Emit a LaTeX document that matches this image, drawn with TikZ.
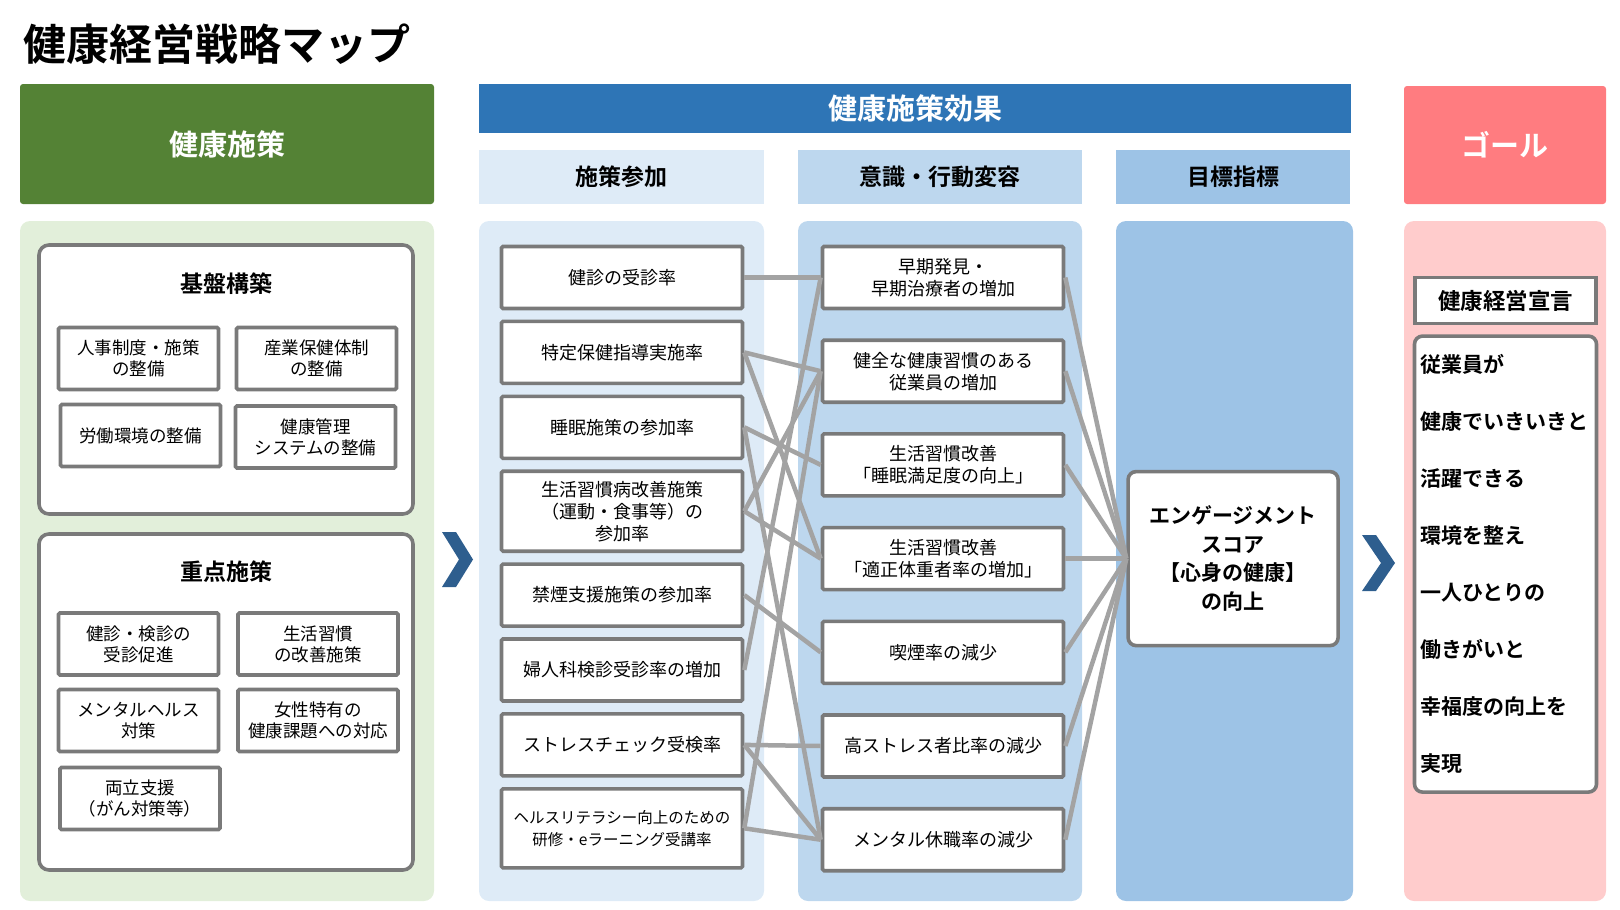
\documentclass[tikz,border=0pt]{standalone}
\usepackage{fontspec}
\setmainfont{Noto Sans CJK JP}[BoldFont={Noto Sans CJK JP Bold}]
\usetikzlibrary{calc}

\definecolor{kgreen}{HTML}{548235}
\definecolor{kgreenbg}{HTML}{E2EFDA}
\definecolor{kblue}{HTML}{2E75B6}
\definecolor{kblue1}{HTML}{DEEBF7}
\definecolor{kblue2}{HTML}{BDD7EE}
\definecolor{kblue3}{HTML}{9DC3E6}
\definecolor{kpink}{HTML}{FF7C80}
\definecolor{kpinkbg}{HTML}{FFCCCC}
\definecolor{kborder}{HTML}{7A7A7A}
\definecolor{kline}{HTML}{A3A3A3}
\definecolor{kchev}{HTML}{2E5E8E}

\begin{document}
\begin{tikzpicture}[x=1pt,y=-1pt]
    \def\itemgap{9.3}
    \def\effectgap{28.1}
    \tikzstyle{header}=[rectangle, rounded corners=3pt, text=white, font=\fontsize{29}{29}\selectfont\bfseries]
    \tikzstyle{subhead}=[rectangle, minimum height=54, font=\fontsize{23}{23}\selectfont\bfseries]
    \tikzstyle{group}=[draw=kborder, line width=3.6pt, fill=white, rounded corners=10pt]
    \tikzstyle{grouptitle}=[font=\fontsize{23}{23}\selectfont\bfseries]
    \tikzstyle{sub}=[rectangle, draw=kborder, line width=3.6pt, fill=white, rounded corners=1.5pt, align=center, minimum width=160, minimum height=62, inner sep=1pt, font=\fontsize{17.5}{21}\selectfont]
    \tikzstyle{item}=[sub, minimum width=241, font=\fontsize{18}{22}\selectfont]
    \tikzstyle{score}=[rectangle, draw=kborder, line width=3.6pt, fill=white, rounded corners=8pt, align=center, minimum width=210, minimum height=174, font=\fontsize{21}{28.6}\selectfont\bfseries]
    \tikzstyle{link}=[draw=kline, line width=4.5pt]
    \tikzstyle{chevron}=[fill=kchev]

    \useasboundingbox (0,0) rectangle (1620,910);

    % panels
    \fill[kgreenbg, rounded corners=10pt] (20,221) rectangle (434,901);
    \fill[kblue1, rounded corners=10pt] (479,221) rectangle (764,901);
    \fill[kblue2, rounded corners=10pt] (798,221) rectangle (1082,901);
    \fill[kblue3, rounded corners=10pt] (1116,221) rectangle (1353,901);
    \fill[kpinkbg, rounded corners=10pt] (1404,221) rectangle (1606,901);

    % headers
    \node (title) [anchor=west, font=\fontsize{43}{43}\selectfont\bfseries] at (20,44) {健康経営戦略マップ};
    \node (hmeasure) [header, fill=kgreen, minimum width=414, minimum height=120] at (227,144) {健康施策};
    \node (heffect) [header, fill=kblue, rounded corners=0pt, minimum width=872, minimum height=49] at (915,108.5) {健康施策効果};
    \node (hgoal) [header, fill=kpink, minimum width=202, minimum height=118] at (1505,145) {ゴール};
    \node (s1) [subhead, fill=kblue1, minimum width=285] at (621.5,177) {施策参加};
    \node (s2) [subhead, fill=kblue2, minimum width=284] at (940,177) {意識・行動変容};
    \node (s3) [subhead, fill=kblue3, minimum width=234] at (1233,177) {目標指標};

    % health measures
    \draw[group] (39,245) rectangle (413,514);
    \node (base) [grouptitle] at (226,284) {基盤構築};
    \node (b1) [sub] at (138.5,358.5) {人事制度・施策\\の整備};
    \path (b1)+(178,0) node (b2) [sub] {産業保健体制\\の整備};
    \path (b1)+(2,77) node (b3) [sub] {労働環境の整備};
    \path (b2)+(-1,78.5) node (b4) [sub] {健康管理\\システムの整備};

    \draw[group] (39,534) rectangle (413,870);
    \node (focus) [grouptitle] at (226,572) {重点施策};
    \node (f1) [sub] at (138.5,644) {健診・検診の\\受診促進};
    \path (f1)+(179.5,0) node (f2) [sub] {生活習慣\\の改善施策};
    \path (f1)+(0,76.5) node (f3) [sub] {メンタルヘルス\\対策};
    \path (f2)+(0,76.5) node (f4) [sub] {女性特有の\\健康課題への対応};
    \path (f3)+(1.5,78) node (f5) [sub] {両立支援\\（がん対策等）};

    % participation
    \node (p1) [item] at (622,277.5) {健診の受診率};
    \path (p1.south)+(0,\itemgap) node (p2) [item, anchor=north] {特定保健指導実施率};
    \path (p2.south)+(0,\itemgap) node (p3) [item, anchor=north] {睡眠施策の参加率};
    \path (p3.south)+(0,\itemgap) node (p4) [item, anchor=north, minimum height=80] {生活習慣病改善施策\\（運動・食事等）の\\参加率};
    \path (p4.south)+(0,\itemgap) node (p5) [item, anchor=north] {禁煙支援施策の参加率};
    \path (p5.south)+(0,\itemgap) node (p6) [item, anchor=north] {婦人科検診受診率の増加};
    \path (p6.south)+(0,\itemgap) node (p7) [item, anchor=north] {ストレスチェック受検率};
    \path (p7.south)+(0,\itemgap) node (p8) [item, anchor=north, minimum height=79, font=\fontsize{15.5}{22}\selectfont] {ヘルスリテラシー向上のための\\研修・eラーニング受講率};

    % behaviour change
    \node (e1) [item] at (943,277.5) {早期発見・\\早期治療者の増加};
    \path (e1.south)+(0,\effectgap) node (e2) [item, anchor=north] {健全な健康習慣のある\\従業員の増加};
    \path (e2.south)+(0,\effectgap) node (e3) [item, anchor=north] {生活習慣改善\\「睡眠満足度の向上」};
    \path (e3.south)+(0,\effectgap) node (e4) [item, anchor=north] {生活習慣改善\\「適正体重者率の増加」};
    \path (e4.south)+(0,\effectgap) node (e5) [item, anchor=north] {喫煙率の減少};
    \path (e5.south)+(0,\effectgap) node (e6) [item, anchor=north] {高ストレス者比率の減少};
    \path (e6.south)+(0,\effectgap) node (e7) [item, anchor=north] {メンタル休職率の減少};

    % target
    \path (e4.east)+(61,0) node (eng) [score, anchor=west] {エンゲージメント\\スコア\\【心身の健康】\\の向上};

    % goal
    \node (decl) [rectangle, draw=kborder, line width=3.6pt, fill=white, minimum width=181, minimum height=46, font=\fontsize{22.5}{22.5}\selectfont\bfseries] at (1505.5,300.5) {健康経営宣言};
    \path (decl.south)+(0,9) node (vision) [anchor=north, rectangle, draw=kborder, line width=3.6pt, fill=white, rounded corners=8pt, text width=170, inner xsep=6pt, align=left, minimum height=456, font=\fontsize{21}{57}\selectfont\bfseries] {従業員が\\健康でいきいきと\\活躍できる\\環境を整え\\一人ひとりの\\働きがいと\\幸福度の向上を\\実現};

    % chevrons
    \fill[chevron] (442,532) -- (456,532) -- (473,559.5) -- (456,587) -- (442,587) -- (459,559.5) -- cycle;
    \fill[chevron] (1362,535) -- (1376,535) -- (1395,563) -- (1376,591) -- (1362,591) -- (1381,563) -- cycle;

    % links
    \draw[link] (p1.east) -- (e1.west);
    \draw[link] (p2.east) -- (e2.west);
    \draw[link] (p2.east) -- (e4.west);
    \draw[link] (p3.east) -- (e3.west);
    \draw[link] (p3.east) -- (e7.west);
    \draw[link] (p4.east) -- (e2.west);
    \draw[link] (p4.east) -- (e4.west);
    \draw[link] (p5.east) -- (e5.west);
    \draw[link] (p6.east) -- (e1.west);
    \draw[link] (p7.east) -- (e6.west);
    \draw[link] (p7.east) -- (e7.west);
    \draw[link] (p8.east) -- (e2.west);
    \draw[link] (p8.east) -- (e7.west);

    \draw[link] (e1.east) -- (eng.west);
    \draw[link] (e2.east) -- (eng.west);
    \draw[link] (e3.east) -- (eng.west);
    \draw[link] (e4.east) -- (eng.west);
    \draw[link] (e5.east) -- (eng.west);
    \draw[link] (e6.east) -- (eng.west);
    \draw[link] (e7.east) -- (eng.west);
\end{tikzpicture}
\end{document}
